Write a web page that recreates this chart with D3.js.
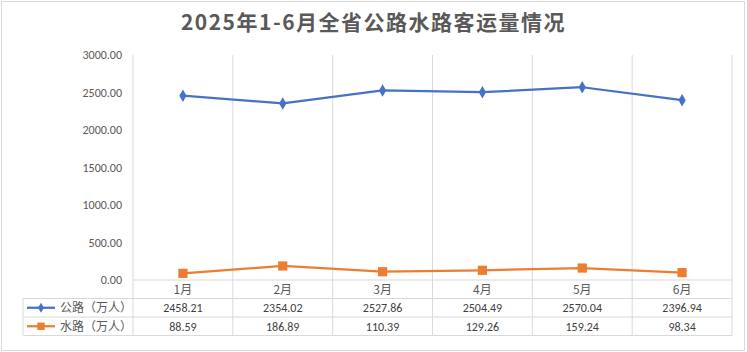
<!DOCTYPE html>
<html>
<head>
<meta charset="utf-8">
<script src="https://cdn.jsdelivr.net/npm/d3@7"></script>
<style>
  body { margin: 0; background: #fff; }
  svg { display: block; font-family: "Microsoft YaHei", "Noto Sans CJK SC", sans-serif; }
</style>
</head>
<body>
<div id="chart"></div>
<script>
const months = ["1月", "2月", "3月", "4月", "5月", "6月"];
const roadValues = [2458.21, 2354.02, 2527.86, 2504.49, 2570.04, 2396.94];
const waterValues = [88.59, 186.89, 110.39, 129.26, 159.24, 98.34];
const seriesNames = ["公路（万人）", "水路（万人）"];
const yTicks = [0, 500, 1000, 1500, 2000, 2500, 3000];

const W = 747, H = 352;
const plot = { left: 133, right: 732, top: 55, bottom: 280 };
const rowH = 18.5;

const svg = d3.select("#chart").append("svg")
  .attr("width", W).attr("height", H);

// frame
svg.append("rect")
  .attr("x", 1.5).attr("y", 1.5).attr("width", W - 4).attr("height", H - 3)
  .attr("fill", "#fff").attr("stroke", "#d9d9d9");

svg.append("text")
  .attr("x", W / 2).attr("y", 30)
  .attr("text-anchor", "middle")
  .style("font-size", "21px").style("font-weight", "bold")
  .style("letter-spacing", "1.5px")
  .style("fill", "#595959")
  .text("2025年1-6月全省公路水路客运量情况");

const x = d3.scaleBand().domain(months).range([plot.left, plot.right]);
const y = d3.scaleLinear().domain([0, 3000]).range([plot.bottom, plot.top]);
const tableBottom = plot.bottom + rowH * 3;

// vertical gridlines (through the table)
const gridX = months.map(m => x(m)).concat([x(months[months.length - 1]) + x.bandwidth()]);
svg.append("g").selectAll("line").data(gridX).join("line")
  .attr("x1", d => d).attr("x2", d => d)
  .attr("y1", plot.top).attr("y2", tableBottom)
  .attr("stroke", "#d9d9d9").attr("stroke-width", 1);

// y axis labels
const yAxis = svg.append("g")
  .attr("transform", `translate(${plot.left - 8},0)`)
  .call(d3.axisLeft(y).tickValues(yTicks).tickFormat(d3.format(".2f")).tickSize(0));
yAxis.select(".domain").remove();
yAxis.selectAll("text")
  .style("font-size", "12px").style("fill", "#595959")
  .style("font-family", "Calibri, Carlito, 'Liberation Sans', sans-serif");

// table rows
const rowYs = [plot.bottom, plot.bottom + rowH, plot.bottom + rowH * 2, tableBottom];
svg.append("g").selectAll("line").data(rowYs).join("line")
  .attr("x1", (d, i) => i < 2 ? (i === 0 ? plot.left : 23) : 23)
  .attr("x2", plot.right)
  .attr("y1", d => d).attr("y2", d => d)
  .attr("stroke", "#d9d9d9");
svg.append("line")
  .attr("x1", 23).attr("x2", 23)
  .attr("y1", plot.bottom + rowH).attr("y2", tableBottom)
  .attr("stroke", "#d9d9d9");

const cellFont = "'Liberation Sans', 'Noto Sans CJK SC', sans-serif";
svg.append("g").selectAll("text").data(months).join("text")
  .attr("x", d => x(d) + x.bandwidth() / 2)
  .attr("y", plot.bottom + rowH / 2 + 4.5)
  .attr("text-anchor", "middle")
  .style("font-size", "12px").style("fill", "#595959")
  .text(d => d);

const rows = [
  { name: seriesNames[0], values: roadValues, color: "#4472C4", marker: "diamond" },
  { name: seriesNames[1], values: waterValues, color: "#ED7D31", marker: "square" }
];

rows.forEach((r, ri) => {
  const cy = plot.bottom + rowH * (ri + 1) + rowH / 2;
  svg.append("g").selectAll("text").data(r.values).join("text")
    .attr("x", (d, i) => x(months[i]) + x.bandwidth() / 2)
    .attr("y", cy + 4.5)
    .attr("text-anchor", "middle")
    .style("font-size", "12px").style("fill", "#404040")
    .style("font-family", "Calibri, Carlito, 'Liberation Sans', sans-serif")
    .text(d => d.toFixed(2));

  // legend key
  svg.append("line")
    .attr("x1", 27).attr("x2", 55).attr("y1", cy).attr("y2", cy)
    .attr("stroke", r.color).attr("stroke-width", 2.25);
  const sym = d3.symbol().type(r.marker === "diamond" ? d3.symbolDiamond : d3.symbolSquare)
    .size(r.marker === "diamond" ? 30 : 55);
  svg.append("path").attr("d", sym())
    .attr("transform", `translate(41,${cy})`).attr("fill", r.color);
  svg.append("text")
    .attr("x", 60).attr("y", cy + 4.5)
    .style("font-size", "12px").style("fill", "#595959")
    .text(r.name);

  // series line
  const line = d3.line()
    .x((d, i) => x(months[i]) + x.bandwidth() / 2)
    .y(d => y(d));
  svg.append("path").datum(r.values)
    .attr("d", line).attr("fill", "none")
    .attr("stroke", r.color).attr("stroke-width", 2.25)
    .attr("stroke-linejoin", "round");

  const markerSym = d3.symbol()
    .type(r.marker === "diamond" ? d3.symbolDiamond : d3.symbolSquare)
    .size(r.marker === "diamond" ? 45 : 85);
  svg.append("g").selectAll("path").data(r.values).join("path")
    .attr("d", markerSym())
    .attr("transform", (d, i) => `translate(${x(months[i]) + x.bandwidth() / 2},${y(d)})`)
    .attr("fill", r.color);
});
</script>
</body>
</html>
